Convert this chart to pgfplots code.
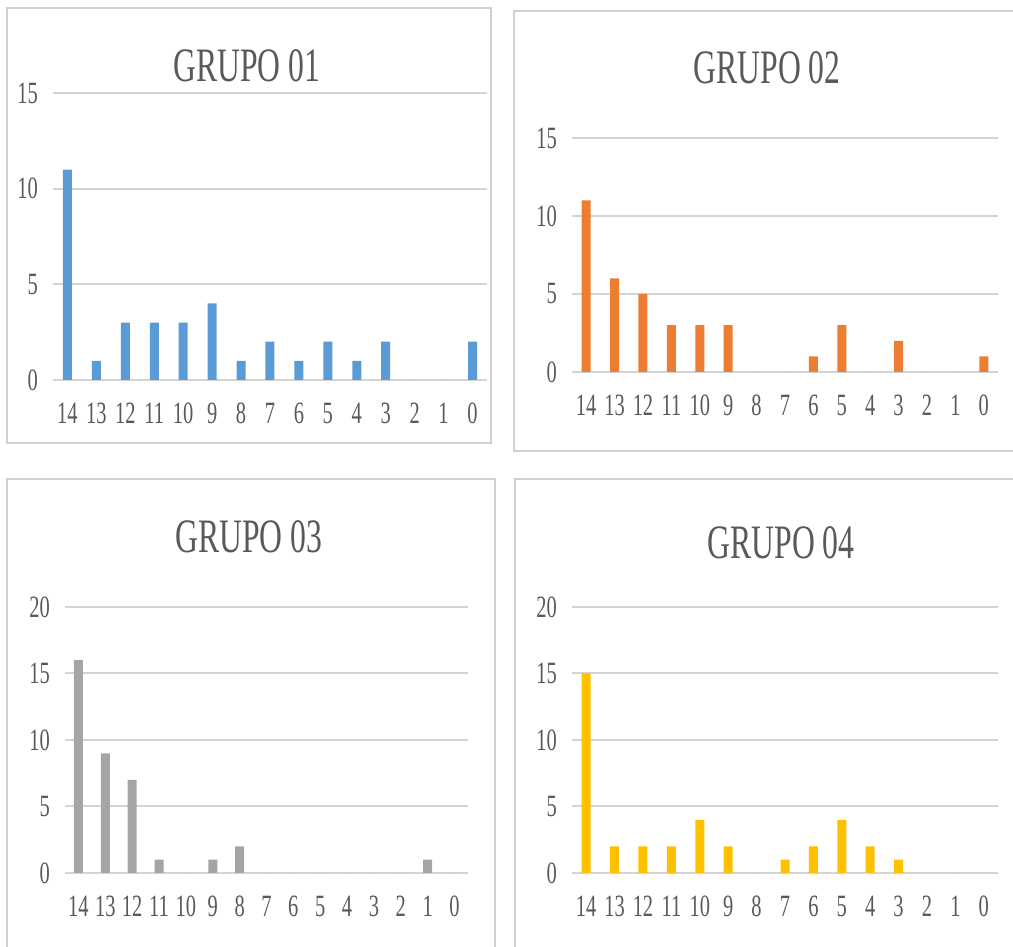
\documentclass[border=0pt]{standalone}
\usepackage{fontspec}
\setmainfont[FakeStretch=0.66]{Liberation Serif}
\usepackage{pgfplots}
\pgfplotsset{compat=1.18}
\definecolor{txt}{HTML}{595959}
\definecolor{gridc}{HTML}{D4D4D4}
\definecolor{framec}{HTML}{D0D0D0}
\definecolor{cblue}{HTML}{5B9BD5}
\definecolor{corange}{HTML}{ED7D31}
\definecolor{cgray}{HTML}{A5A5A5}
\definecolor{cgold}{HTML}{FFC000}
\pgfplotsset{
  grp/.style={
    scale only axis,
    ybar, bar width=4.5pt,
    x dir=reverse,
    xmin=-0.5, xmax=14.5,
    xtick={0,...,14},
    ymin=0,
    axis line style={draw=none},
    major tick length=0pt,
    ymajorgrids,
    major grid style={gridc, line width=1pt},
    /pgf/number format/assume math mode=true,
    tick label style={font=\fontsize{15.5}{18}\selectfont, text=txt},
    xticklabel style={yshift=-8pt},
    yticklabel style={xshift=-4pt},
    clip=false,
  }
}
\begin{document}
\begin{tikzpicture}
\useasboundingbox (0,0) rectangle (506.5pt,473.5pt);
\draw[framec, line width=0.6pt] (3.5pt,469.5pt) rectangle (245.5pt,252pt);
\draw[framec, line width=0.6pt] (257pt,468pt) rectangle (515pt,248pt);
\draw[framec, line width=0.6pt] (3.5pt,234pt) rectangle (247.5pt,-6.5pt);
\draw[framec, line width=0.6pt] (257.5pt,234pt) rectangle (515pt,-6.5pt);
\node[text=txt, font=\fontsize{24}{28}\selectfont] at (123.5pt,440.5pt) {GRUPO 01};
\node[text=txt, font=\fontsize{24}{28}\selectfont] at (383.5pt,439.5pt) {GRUPO 02};
\node[text=txt, font=\fontsize{24}{28}\selectfont] at (124.5pt,205pt) {GRUPO 03};
\node[text=txt, font=\fontsize{24}{28}\selectfont] at (390.5pt,202pt) {GRUPO 04};

\begin{axis}[grp, at={(26.5pt,283.5pt)}, width=217pt, height=143.5pt, ymax=15, ytick={0,5,10,15}]
\addplot[fill=cblue, draw=none] coordinates {(14,11) (13,1) (12,3) (11,3) (10,3) (9,4) (8,1) (7,2) (6,1) (5,2) (4,1) (3,2) (2,0) (1,0) (0,2)};
\end{axis}

\begin{axis}[grp, at={(286pt,287.5pt)}, width=213pt, height=117pt, ymax=15, ytick={0,5,10,15}]
\addplot[fill=corange, draw=none] coordinates {(14,11) (13,6) (12,5) (11,3) (10,3) (9,3) (8,0) (7,0) (6,1) (5,3) (4,0) (3,2) (2,0) (1,0) (0,1)};
\end{axis}

\begin{axis}[grp, at={(32.5pt,37pt)}, width=201.5pt, height=133pt, ymax=20, ytick={0,5,10,15,20}]
\addplot[fill=cgray, draw=none] coordinates {(14,16) (13,9) (12,7) (11,1) (10,0) (9,1) (8,2) (7,0) (6,0) (5,0) (4,0) (3,0) (2,0) (1,1) (0,0)};
\end{axis}

\begin{axis}[grp, at={(286pt,37pt)}, width=213pt, height=133pt, ymax=20, ytick={0,5,10,15,20}]
\addplot[fill=cgold, draw=none] coordinates {(14,15) (13,2) (12,2) (11,2) (10,4) (9,2) (8,0) (7,1) (6,2) (5,4) (4,2) (3,1) (2,0) (1,0) (0,0)};
\end{axis}
\end{tikzpicture}
\end{document}
